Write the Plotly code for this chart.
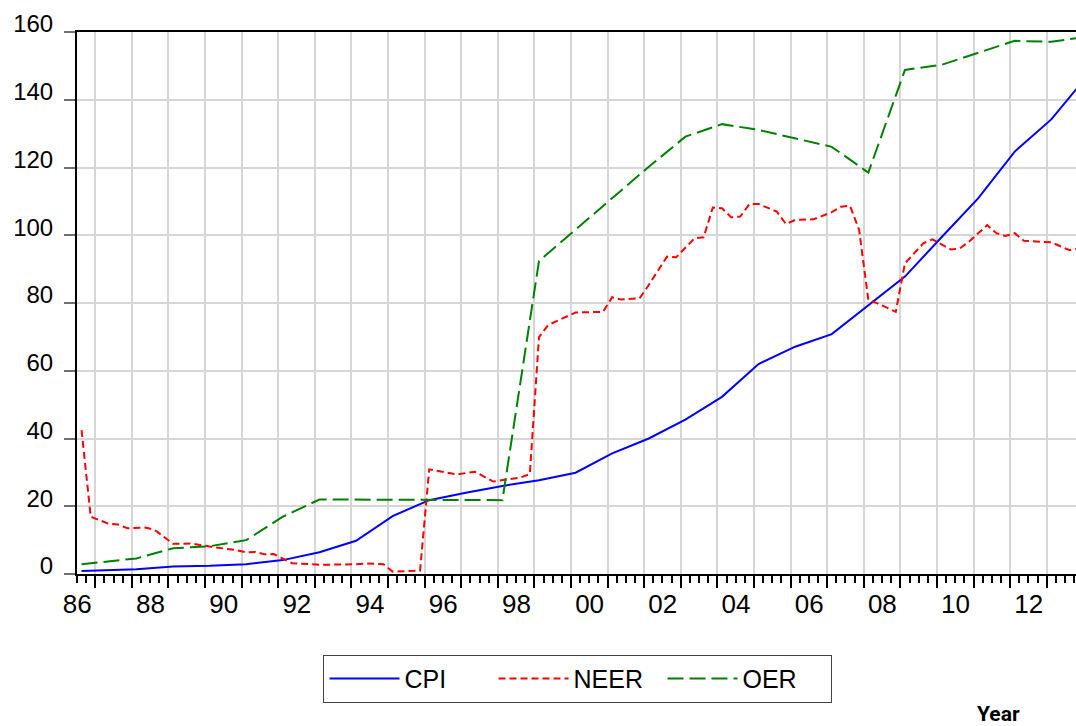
import plotly.graph_objects as go

# ---- data (quarterly observations; points where the plotted lines change slope) ----
cpi_periods = ["1986Q1", "1987Q3", "1988Q3", "1989Q3", "1990Q3", "1991Q3", "1992Q3", "1993Q3",
               "1994Q3", "1995Q3", "1996Q3", "1997Q3", "1998Q3", "1999Q3", "2000Q3", "2001Q3",
               "2002Q3", "2003Q3", "2004Q3", "2005Q3", "2006Q3", "2007Q3", "2008Q3", "2009Q3",
               "2010Q3", "2011Q3", "2012Q3", "2013Q2"]
cpi_values = [0.9, 1.4, 2.2, 2.4, 2.9, 4.1, 6.4, 9.8,
              17.1, 21.8, 24.0, 26.0, 27.7, 29.9, 35.6, 40.0,
              45.6, 52.3, 62.0, 67.1, 70.8, 79.3, 87.8, 99.4,
              110.9, 124.7, 134.2, 144.0]

neer_periods = ["1986Q1", "1986Q2", "1986Q4", "1987Q1", "1987Q2", "1987Q4", "1988Q1", "1988Q2",
                "1988Q3", "1989Q1", "1989Q3", "1990Q2", "1990Q3", "1990Q4", "1991Q1", "1991Q2",
                "1991Q4", "1992Q2", "1992Q3", "1993Q3", "1993Q4", "1994Q2", "1994Q3", "1995Q2",
                "1995Q3", "1996Q2", "1996Q4", "1997Q2", "1997Q3", "1998Q1", "1998Q2", "1998Q3",
                "1998Q4", "1999Q3", "2000Q2", "2000Q3", "2000Q4", "2001Q1", "2001Q2", "2001Q3",
                "2002Q1", "2002Q2", "2002Q4", "2003Q1", "2003Q2", "2003Q3", "2003Q4", "2004Q1",
                "2004Q2", "2004Q3", "2005Q1", "2005Q2", "2005Q3", "2006Q1", "2006Q3", "2006Q4",
                "2007Q1", "2007Q2", "2007Q3", "2007Q4", "2008Q2", "2008Q3", "2009Q1", "2009Q2",
                "2009Q4", "2010Q1", "2010Q2", "2010Q4", "2011Q1", "2011Q2", "2011Q3", "2011Q4",
                "2012Q3", "2013Q1", "2013Q2"]
neer_values = [42.5, 16.9, 14.8, 14.6, 13.5, 13.7, 13.0, 11.0,
               8.9, 9.0, 8.1, 7.0, 6.4, 6.5, 5.8, 5.9,
               3.2, 2.9, 2.7, 2.9, 3.1, 2.9, 0.7, 1.0,
               30.9, 29.4, 30.2, 27.3, 27.7, 28.5, 29.5, 69.9,
               73.5, 77.2, 77.4, 81.7, 81.0, 81.2, 81.4, 85.3,
               93.7, 93.5, 99.1, 99.4, 108.2, 108.0, 105.3, 105.5,
               109.2, 109.2, 107.0, 103.3, 104.5, 104.7, 106.8, 108.4,
               108.7, 101.5, 80.9, 79.9, 77.4, 91.7, 97.6, 98.8,
               95.8, 96.1, 98.1, 103.0, 100.6, 99.8, 100.6, 98.4,
               97.9, 95.6, 96.1]

oer_periods = ["1986Q1", "1987Q3", "1988Q3", "1989Q3", "1990Q3", "1991Q3", "1992Q3", "1993Q3",
               "1995Q3", "1997Q3", "1998Q3", "1999Q3", "2000Q3", "2001Q3", "2002Q3", "2003Q3",
               "2004Q3", "2005Q3", "2006Q3", "2007Q3", "2008Q3", "2009Q3", "2010Q3", "2011Q3",
               "2012Q3", "2013Q2"]
oer_values = [2.9, 4.6, 7.6, 8.2, 10.0, 16.9, 22.0, 22.0,
              21.8, 21.8, 92.4, 101.7, 110.9, 120.2, 129.1, 132.8,
              131.1, 128.6, 126.1, 118.5, 148.8, 150.3, 153.8, 157.4,
              157.1, 158.3]

year_labels = ["86", "", "88", "", "90", "", "92", "", "94", "", "96", "", "98", "",
               "00", "", "02", "", "04", "", "06", "", "08", "", "10", "", "12", ""]
first_year = 1986
y_ticks = [0, 20, 40, 60, 80, 100, 120, 140, 160]


def qpos(period):
    year, q = int(period[:4]), int(period[5])
    return year + (q - 0.5) / 4.0


fig = go.Figure()
fig.add_trace(go.Scatter(x=[qpos(p) for p in cpi_periods], y=cpi_values, mode="lines",
                         name="CPI", line=dict(color="#0000FF", width=2)))
fig.add_trace(go.Scatter(x=[qpos(p) for p in neer_periods], y=neer_values, mode="lines",
                         name="NEER", line=dict(color="#FF0000", width=2, dash="7px,4px")))
fig.add_trace(go.Scatter(x=[qpos(p) for p in oer_periods], y=oer_values, mode="lines",
                         name="OER", line=dict(color="#008000", width=2, dash="16px,6px")))

mid_years = [first_year + i + 0.5 for i in range(len(year_labels))]

fig.update_layout(
    width=1076, height=726,
    margin=dict(l=77, r=0, t=32, b=152, autoexpand=False),
    paper_bgcolor="white", plot_bgcolor="white",
    font=dict(family="Liberation Sans, Arial, sans-serif", color="black"),
    showlegend=True,
    legend=dict(orientation="h", x=0.5015, xanchor="center", y=-0.149, yanchor="top",
                bordercolor="#444444", borderwidth=1, bgcolor="white",
                font=dict(size=25, family="Liberation Sans, Arial, sans-serif"),
                itemwidth=70, entrywidth=84),
    xaxis=dict(range=[1986.0, 2013.30], tickmode="array", tickvals=mid_years,
               ticktext=year_labels, ticks="outside", ticklen=12, tickwidth=1.5,
               tickcolor="black", ticklabelshift=-18, ticklabelstandoff=-6,
               tickfont=dict(size=26), automargin=False,
               showgrid=True, gridcolor="#d6d6d6", gridwidth=1.5,
               showline=True, linecolor="black", linewidth=2, mirror=True,
               zeroline=False,
               minor=dict(dtick=0.25, tick0=1986.0, ticks="outside", ticklen=7,
                          tickwidth=1.5, tickcolor="black", showgrid=False)),
    yaxis=dict(range=[0, 160], tickmode="array", tickvals=y_ticks,
               ticks="outside", ticklen=11, tickwidth=2, tickcolor="#707070",
               ticklabelshift=-8, ticklabelstandoff=6, tickfont=dict(size=24),
               automargin=False,
               showgrid=True, gridcolor="#d6d6d6", gridwidth=1.5,
               showline=True, linecolor="black", linewidth=2, zeroline=False),
    annotations=[dict(text="<b>Year</b>", xref="paper", yref="paper", x=0.922, y=-0.2585,
                      xanchor="center", yanchor="middle", showarrow=False,
                      font=dict(size=21, family="Roboto, Liberation Sans, sans-serif"))],
)

# remove the page's default body margin so the figure fills the window exactly
fig.write_html("out.html", config={"displayModeBar": False},
               post_script="document.body.style.margin='0px';document.body.style.overflow='hidden';")
